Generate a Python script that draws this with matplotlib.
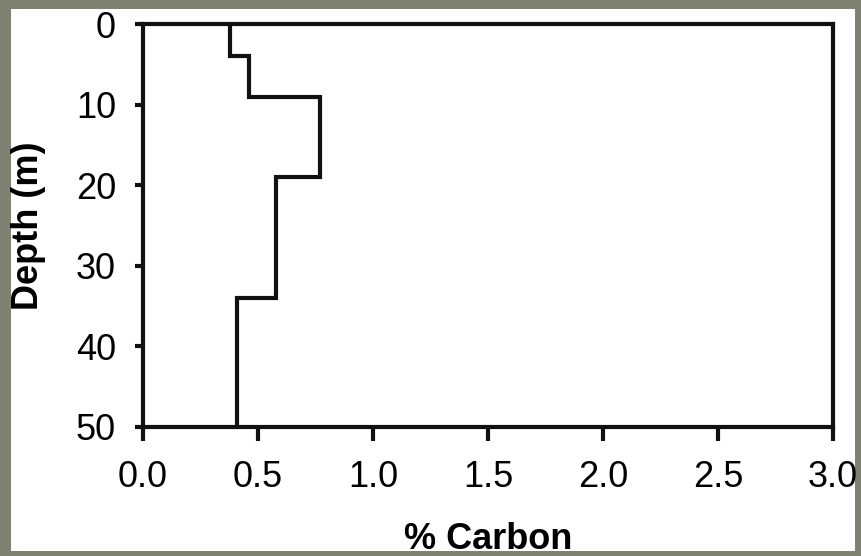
import matplotlib
matplotlib.use("Agg")
import matplotlib.pyplot as plt
from matplotlib.patches import Rectangle
import numpy as np

# Carbon content by depth interval (layer boundaries in metres)
depth_edges = [0, 4, 9, 19, 34, 50]
carbon_pct = [0.38, 0.46, 0.77, 0.58, 0.41]

x_ticks = [0.0, 0.5, 1.0, 1.5, 2.0, 2.5, 3.0]
y_ticks = [0, 10, 20, 30, 40, 50]

plt.rcParams['font.family'] = ['Liberation Sans', 'DejaVu Sans']

fig = plt.figure(figsize=(8.62, 5.56), dpi=100, facecolor='#7f8273')

# white slide panel behind the chart
fig.patches.append(Rectangle((11 / 862, 1 - 551 / 556), 844 / 862, 542 / 556,
                             transform=fig.transFigure, facecolor='white',
                             edgecolor='none', zorder=-10))

ax = fig.add_axes([143 / 862, 1 - 427 / 556, 690 / 862, 403 / 556])
ax.set_facecolor('white')

ax.stairs(carbon_pct, depth_edges, orientation='horizontal', baseline=None,
          color='#111111', linewidth=3.0)

ax.set_xlim(0, 3)
ax.set_ylim(50, 0)
ax.set_xticks(x_ticks)
ax.set_xticklabels([f"{t:.1f}" for t in x_ticks])
ax.set_yticks(y_ticks)

for s in ax.spines.values():
    s.set_linewidth(3.0)
    s.set_color('#111111')

ax.tick_params(axis='x', direction='out', length=10, width=3, pad=14,
               labelsize=26, color='#111111')
ax.tick_params(axis='y', direction='out', length=5.5, width=3, pad=14,
               labelsize=26, color='#111111')

ax.set_xlabel('% Carbon', fontsize=26, fontweight='bold', labelpad=19)
ax.set_ylabel('Depth (m)', fontsize=26, fontweight='bold', labelpad=21)

fig.savefig('out.png', dpi=100, facecolor=fig.get_facecolor())
